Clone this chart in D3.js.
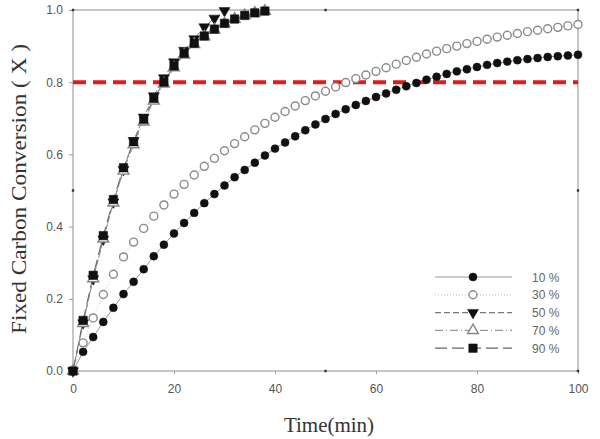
<!DOCTYPE html>
<html>
<head>
<meta charset="utf-8">
<script src="https://cdnjs.cloudflare.com/ajax/libs/d3/7.8.5/d3.min.js"></script>
<style>
  body { margin: 0; background: #fff; }
  svg { display: block; }
  .tick text { font-family: "Liberation Sans", Arial, sans-serif; font-size: 12px; fill: #555; }
</style>
</head>
<body>
<svg id="chart" width="600" height="439"></svg>
<script>
// time axis (min), points every 2 min
var timeSlow = d3.range(0, 101, 2);
var timeFast90 = d3.range(0, 39, 2);
var timeFast70 = d3.range(0, 39, 2);
var timeFast50 = d3.range(0, 31, 2);

var conv10 = [0, 0.053, 0.094, 0.136, 0.175, 0.213, 0.247, 0.282, 0.318, 0.35,
  0.381, 0.41, 0.438, 0.465, 0.49, 0.514, 0.537, 0.557, 0.577, 0.597,
  0.616, 0.633, 0.65, 0.667, 0.683, 0.698, 0.712, 0.725, 0.737, 0.748,
  0.759, 0.769, 0.779, 0.789, 0.798, 0.807, 0.815, 0.823, 0.83, 0.836,
  0.842, 0.848, 0.853, 0.857, 0.861, 0.864, 0.867, 0.87, 0.872, 0.874, 0.876];
var conv30 = [0, 0.078, 0.147, 0.212, 0.268, 0.316, 0.357, 0.395, 0.429, 0.46,
  0.49, 0.517, 0.543, 0.567, 0.589, 0.61, 0.63, 0.649, 0.668, 0.686,
  0.703, 0.719, 0.734, 0.749, 0.762, 0.775, 0.787, 0.799, 0.81, 0.82,
  0.83, 0.84, 0.85, 0.86, 0.869, 0.878, 0.886, 0.893, 0.9, 0.907,
  0.913, 0.919, 0.925, 0.93, 0.935, 0.94, 0.944, 0.948, 0.952, 0.956, 0.96];
var conv50 = [0, 0.133, 0.255, 0.365, 0.468, 0.558, 0.638, 0.703, 0.762, 0.812,
  0.856, 0.888, 0.92, 0.953, 0.977, 0.998];
var conv70 = [0, 0.132, 0.256, 0.366, 0.466, 0.554, 0.627, 0.69, 0.748, 0.795,
  0.84, 0.876, 0.905, 0.926, 0.945, 0.962, 0.975, 0.985, 0.992, 0.997];
var conv90 = [0, 0.14, 0.265, 0.375, 0.475, 0.563, 0.635, 0.697, 0.755, 0.8,
  0.845, 0.88, 0.908, 0.928, 0.947, 0.963, 0.975, 0.985, 0.992, 0.997];

var xTicks = [0, 20, 40, 60, 80, 100];
var yTicks = [0, 0.2, 0.4, 0.6, 0.8, 1.0];
var legendLabels = ["10 %", "30 %", "50 %", "70 %", "90 %"];
var targetConv = 0.8;

var series = [
  { name: legendLabels[0], t: timeSlow, v: conv10, sym: "circle", fill: "#111", stroke: "#111", line: "#9a9a9a", dash: null },
  { name: legendLabels[1], t: timeSlow, v: conv30, sym: "circle", fill: "#fff", stroke: "#8a8a8a", line: "#c8c8c8", dash: "1,2" },
  { name: legendLabels[2], t: timeFast50, v: conv50, sym: "triDown", fill: "#111", stroke: "#111", line: "#777", dash: "6,3" },
  { name: legendLabels[3], t: timeFast70, v: conv70, sym: "triUp", fill: "#fff", stroke: "#888", line: "#999", dash: "8,3,1,3" },
  { name: legendLabels[4], t: timeFast90, v: conv90, sym: "square", fill: "#111", stroke: "#111", line: "#666", dash: "12,5" }
];

var svg = d3.select("#chart");
var x = d3.scaleLinear().domain([0, 100]).range([73, 578]);
var y = d3.scaleLinear().domain([0, 1]).range([371, 10]);

var symbolTypes = {
  circle: d3.symbolCircle,
  square: d3.symbolSquare,
  triUp: d3.symbolTriangle,
  triDown: d3.symbolTriangle
};
var symbolSizes = { circle: 50, square: 72, triUp: 52, triDown: 52 };

function marker(sel, s) {
  sel.attr("d", d3.symbol().type(symbolTypes[s.sym]).size(symbolSizes[s.sym]))
    .attr("fill", s.fill)
    .attr("stroke", s.stroke)
    .attr("stroke-width", s.fill == "#fff" ? 1.4 : 0.5);
}

// frame
var frameColor = "#b8b8b8";
svg.append("rect")
  .attr("x", x(0)).attr("y", y(1))
  .attr("width", x(100) - x(0)).attr("height", y(0) - y(1))
  .attr("fill", "none").attr("stroke", frameColor).attr("stroke-width", 1.6);

// axes
var xAxis = svg.append("g")
  .attr("transform", "translate(0," + y(0) + ")")
  .call(d3.axisBottom(x).tickValues(xTicks).tickSize(3).tickPadding(10).tickFormat(d3.format("d")));
var yAxis = svg.append("g")
  .attr("transform", "translate(" + x(0) + ",0)")
  .call(d3.axisLeft(y).tickValues(yTicks).tickSize(4).tickPadding(6).tickFormat(d3.format(".1f")));
[xAxis, yAxis].forEach(function (a) {
  a.select(".domain").remove();
  a.selectAll(".tick line").attr("stroke", "#999");
});

// small minor marks at the middle of each side
var minor = [
  [x(50), y(0)], [x(50), y(1)], [x(0), y(0.5)], [x(100), y(0.5)],
  [x(0), y(1)], [x(100), y(1)], [x(100), y(0)]
];
svg.selectAll("rect.minor").data(minor).enter().append("rect")
  .attr("class", "minor")
  .attr("x", function (d) { return d[0] - 1.2; })
  .attr("y", function (d) { return d[1] - 1.2; })
  .attr("width", 2.4).attr("height", 2.4)
  .attr("fill", "#333");

// lines
var lineGen = d3.line()
  .x(function (d) { return x(d[0]); })
  .y(function (d) { return y(d[1]); });

series.forEach(function (s) {
  var pts = s.t.map(function (t, i) { return [t, s.v[i]]; });
  svg.append("path")
    .datum(pts)
    .attr("d", lineGen)
    .attr("fill", "none")
    .attr("stroke", s.line)
    .attr("stroke-width", 1)
    .attr("stroke-dasharray", s.dash);
});

// target line
svg.append("line")
  .attr("x1", x(0)).attr("x2", x(100))
  .attr("y1", y(targetConv)).attr("y2", y(targetConv))
  .attr("stroke", "#e01b1b")
  .attr("stroke-width", 4)
  .attr("stroke-dasharray", "13,7");

// markers (drawn slow first, squares last)
series.forEach(function (s) {
  var pts = s.t.map(function (t, i) { return [t, s.v[i]]; });
  svg.append("g").selectAll("path").data(pts).enter().append("path")
    .attr("transform", function (d) {
      return "translate(" + x(d[0]) + "," + y(d[1]) + ")" + (s.sym == "triDown" ? " rotate(180)" : "");
    })
    .call(marker, s);
});

// legend
var legend = svg.append("g");
series.forEach(function (s, i) {
  var ly = 277 + i * 17.8;
  legend.append("line")
    .attr("x1", 435).attr("x2", 512)
    .attr("y1", ly).attr("y2", ly)
    .attr("stroke", s.line)
    .attr("stroke-width", 1.2)
    .attr("stroke-dasharray", s.dash);
  legend.append("path")
    .attr("transform", "translate(473," + ly + ")" + (s.sym == "triDown" ? " rotate(180)" : ""))
    .call(marker, s);
  legend.append("text")
    .attr("x", 532).attr("y", ly + 4.5)
    .attr("font-family", "Liberation Sans, Arial, sans-serif")
    .attr("font-size", 12)
    .attr("fill", "#666")
    .text(s.name);
});

// axis titles
svg.append("text")
  .attr("x", 329).attr("y", 432)
  .attr("text-anchor", "middle")
  .attr("font-family", "Liberation Serif, Times New Roman, serif")
  .attr("font-size", 21)
  .attr("fill", "#333")
  .text("Time(min)");

svg.append("text")
  .attr("transform", "translate(26,189) rotate(-90)")
  .attr("text-anchor", "middle")
  .attr("font-family", "Liberation Serif, Times New Roman, serif")
  .attr("font-size", 21)
  .attr("textLength", 290)
  .attr("lengthAdjust", "spacingAndGlyphs")
  .attr("fill", "#333")
  .text("Fixed Carbon Conversion ( X )");
</script>
</body>
</html>
